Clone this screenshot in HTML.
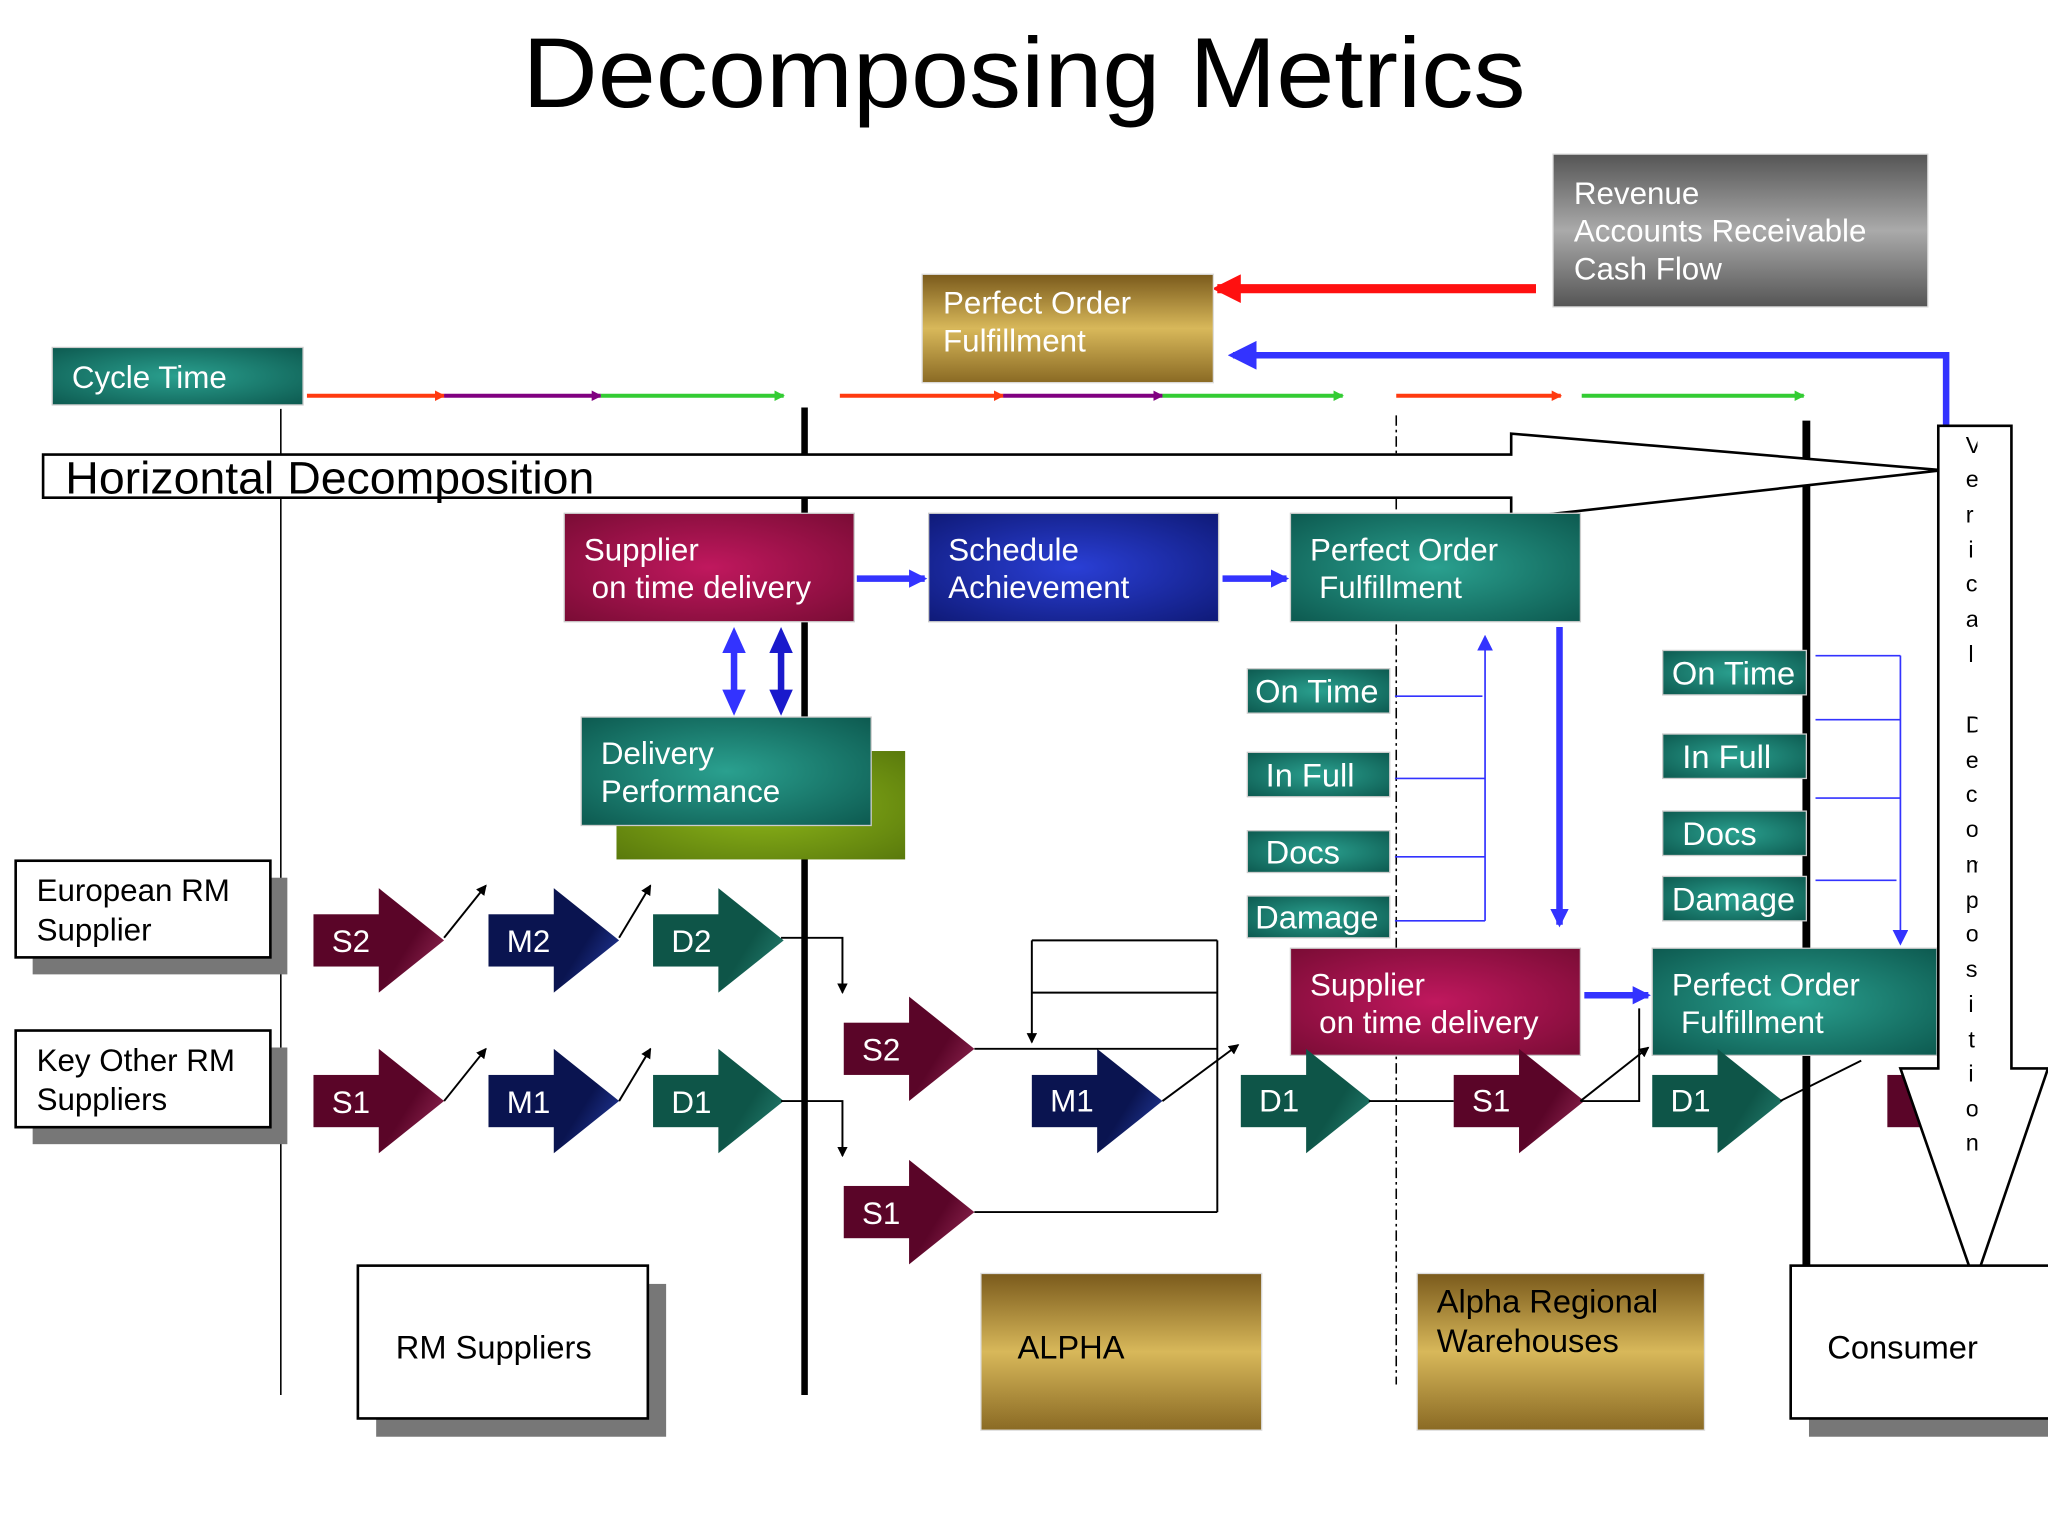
<!DOCTYPE html>
<html><head><meta charset="utf-8"><style>
html,body{margin:0;padding:0;background:#fff;}
svg{display:block;}
text{font-family:"Liberation Sans",sans-serif;}
</style></head><body>
<svg width="2048" height="1536" viewBox="0 0 1568 1176" xmlns="http://www.w3.org/2000/svg">
<defs>
<radialGradient id="gTeal" cx="50%" cy="50%" r="70%"><stop offset="0" stop-color="#2aa08f"/><stop offset="1" stop-color="#0d5a50"/></radialGradient>
<radialGradient id="gMag" cx="50%" cy="50%" r="70%"><stop offset="0" stop-color="#c0185e"/><stop offset="1" stop-color="#7a0c35"/></radialGradient>
<radialGradient id="gBlue" cx="50%" cy="50%" r="70%"><stop offset="0" stop-color="#2a3fd6"/><stop offset="1" stop-color="#0f1a78"/></radialGradient>
<radialGradient id="gOlive" cx="50%" cy="50%" r="70%"><stop offset="0" stop-color="#8fb81a"/><stop offset="1" stop-color="#5a7a0c"/></radialGradient>
<linearGradient id="gGold" x1="0" y1="0" x2="0" y2="1"><stop offset="0" stop-color="#7a5a1c"/><stop offset="0.5" stop-color="#d8b85a"/><stop offset="1" stop-color="#8a6a24"/></linearGradient>
<linearGradient id="gGray" x1="0" y1="0" x2="0" y2="1"><stop offset="0" stop-color="#555"/><stop offset="0.5" stop-color="#aaa"/><stop offset="1" stop-color="#555"/></linearGradient>
<linearGradient id="tS" x1="0" y1="0" x2="1" y2="1"><stop offset="0.5" stop-color="#5a0528"/><stop offset="1" stop-color="#a0305e"/></linearGradient>
<linearGradient id="tM" x1="0" y1="0" x2="1" y2="1"><stop offset="0.5" stop-color="#0a1450"/><stop offset="1" stop-color="#2a44b0"/></linearGradient>
<linearGradient id="tD" x1="0" y1="0" x2="1" y2="1"><stop offset="0.5" stop-color="#0e5548"/><stop offset="1" stop-color="#2a8a7a"/></linearGradient>
<g id="chS"><rect x="0" y="-20" width="52" height="40" fill="#5a0528"/><polygon points="50,-40 100,0 50,40" fill="url(#tS)"/></g>
<g id="chM"><rect x="0" y="-20" width="52" height="40" fill="#0a1450"/><polygon points="50,-40 100,0 50,40" fill="url(#tM)"/></g>
<g id="chD"><rect x="0" y="-20" width="52" height="40" fill="#0e5548"/><polygon points="50,-40 100,0 50,40" fill="url(#tD)"/></g>
<marker id="ak" markerWidth="8" markerHeight="8" refX="7" refY="4" orient="auto" markerUnits="userSpaceOnUse"><path d="M0,0 L8,4 L0,8z" fill="#000"/></marker>
<marker id="ab" markerWidth="14" markerHeight="14" refX="12" refY="7" orient="auto" markerUnits="userSpaceOnUse"><path d="M0,0 L14,7 L0,14z" fill="#3333ff"/></marker>
<marker id="abs" markerWidth="12" markerHeight="12" refX="10" refY="6" orient="auto" markerUnits="userSpaceOnUse"><path d="M0,0 L12,6 L0,12z" fill="#3333ff"/></marker>
<marker id="abb" markerWidth="22" markerHeight="22" refX="18" refY="11" orient="auto" markerUnits="userSpaceOnUse"><path d="M0,0 L22,11 L0,22z" fill="#3333ff"/></marker>
<marker id="ar" markerWidth="22" markerHeight="22" refX="18" refY="11" orient="auto" markerUnits="userSpaceOnUse"><path d="M0,0 L22,11 L0,22z" fill="#ff1010"/></marker>
<marker id="cr" markerWidth="8" markerHeight="8" refX="7" refY="4" orient="auto" markerUnits="userSpaceOnUse"><path d="M0,0 L8,4 L0,8z" fill="#ff3a10"/></marker>
<marker id="cp" markerWidth="8" markerHeight="8" refX="7" refY="4" orient="auto" markerUnits="userSpaceOnUse"><path d="M0,0 L8,4 L0,8z" fill="#800080"/></marker>
<marker id="cg" markerWidth="8" markerHeight="8" refX="7" refY="4" orient="auto" markerUnits="userSpaceOnUse"><path d="M0,0 L8,4 L0,8z" fill="#33cc33"/></marker>
<clipPath id="vclip"><rect x="1490" y="330" width="24" height="560"/></clipPath>
</defs>

<text x="400" y="82" font-size="76" textLength="768" lengthAdjust="spacingAndGlyphs" fill="#000">Decomposing Metrics</text>

<rect x="1189" y="118" width="287" height="117" fill="url(#gGray)" stroke="#ddd"/>
<g fill="#fff" font-size="24"><text x="1205" y="156">Revenue</text><text x="1205" y="185">Accounts Receivable</text><text x="1205" y="214">Cash Flow</text></g>
<line x1="1176" y1="221" x2="932" y2="221" stroke="#ff1010" stroke-width="7" marker-end="url(#ar)"/>
<polyline points="1490,325 1490,272 944,272" fill="none" stroke="#3333ff" stroke-width="5" marker-end="url(#abb)"/>

<rect x="706" y="210" width="223" height="83" fill="url(#gGold)" stroke="#ddd"/>
<g fill="#fff" font-size="24"><text x="722" y="240">Perfect Order</text><text x="722" y="269">Fulfillment</text></g>

<rect x="40" y="266" width="192" height="44" fill="url(#gTeal)" stroke="#ccc"/>
<text x="55" y="297" fill="#fff" font-size="24">Cycle Time</text>

<g stroke-width="3">
<line x1="235" y1="303" x2="340" y2="303" stroke="#ff3a10" marker-end="url(#cr)"/>
<line x1="340" y1="303" x2="460" y2="303" stroke="#800080" marker-end="url(#cp)"/>
<line x1="460" y1="303" x2="600" y2="303" stroke="#33cc33" marker-end="url(#cg)"/>
<line x1="643" y1="303" x2="768" y2="303" stroke="#ff3a10" marker-end="url(#cr)"/>
<line x1="768" y1="303" x2="890" y2="303" stroke="#800080" marker-end="url(#cp)"/>
<line x1="890" y1="303" x2="1028" y2="303" stroke="#33cc33" marker-end="url(#cg)"/>
<line x1="1069" y1="303" x2="1195" y2="303" stroke="#ff3a10" marker-end="url(#cr)"/>
<line x1="1211" y1="303" x2="1381" y2="303" stroke="#33cc33" marker-end="url(#cg)"/>
</g>

<line x1="215" y1="313" x2="215" y2="1068" stroke="#000" stroke-width="1.2"/>
<line x1="616" y1="312" x2="616" y2="1068" stroke="#000" stroke-width="5"/>
<line x1="1069" y1="318" x2="1069" y2="1060" stroke="#000" stroke-width="1.2" stroke-dasharray="8,3,2,3"/>
<line x1="1383" y1="322" x2="1383" y2="1000" stroke="#000" stroke-width="6"/>

<polygon points="33,348 1157,348 1157,332 1487,360 1157,397 1157,381 33,381" fill="#fff" stroke="#000" stroke-width="2"/>
<text x="50" y="378" font-size="35" fill="#000" textLength="405" lengthAdjust="spacingAndGlyphs">Horizontal Decomposition</text>

<rect x="432" y="393" width="222" height="83" fill="url(#gMag)" stroke="#ccc"/>
<g fill="#fff" font-size="24"><text x="447" y="429">Supplier</text><text x="453" y="458">on time delivery</text></g>
<rect x="711" y="393" width="222" height="83" fill="url(#gBlue)" stroke="#ccc"/>
<g fill="#fff" font-size="24"><text x="726" y="429">Schedule</text><text x="726" y="458">Achievement</text></g>
<rect x="988" y="393" width="222" height="83" fill="url(#gTeal)" stroke="#ccc"/>
<g fill="#fff" font-size="24"><text x="1003" y="429">Perfect Order</text><text x="1010" y="458">Fulfillment</text></g>
<line x1="656" y1="443" x2="708" y2="443" stroke="#3333ff" stroke-width="5" marker-end="url(#ab)"/>
<line x1="936" y1="443" x2="985" y2="443" stroke="#3333ff" stroke-width="5" marker-end="url(#ab)"/>

<g stroke-width="5">
<line x1="562" y1="500" x2="562" y2="530" stroke="#3333ff"/>
<polygon points="562,480 553,500 571,500" fill="#3333ff"/><polygon points="562,548 553,528 571,528" fill="#3333ff"/>
<line x1="598" y1="500" x2="598" y2="530" stroke="#1a1acc"/>
<polygon points="598,480 589,500 607,500" fill="#1a1acc"/><polygon points="598,548 589,528 607,528" fill="#1a1acc"/>
</g>

<rect x="472" y="575" width="221" height="83" fill="url(#gOlive)"/>
<rect x="445" y="549" width="222" height="83" fill="url(#gTeal)" stroke="#ccc"/>
<g fill="#fff" font-size="24"><text x="460" y="585">Delivery</text><text x="460" y="614">Performance</text></g>

<g fill="url(#gTeal)" stroke="#ccc">
<rect x="955" y="512" width="109" height="34"/><rect x="955" y="576" width="109" height="34"/>
<rect x="955" y="636" width="109" height="32"/><rect x="955" y="686" width="109" height="32"/>
<rect x="1273" y="498" width="110" height="34"/><rect x="1273" y="562" width="110" height="34"/>
<rect x="1273" y="621" width="110" height="34"/><rect x="1273" y="671" width="110" height="34"/>
</g>
<g fill="#fff" font-size="25">
<text x="961" y="538">On Time</text><text x="969" y="602">In Full</text><text x="969" y="661">Docs</text><text x="961" y="711">Damage</text>
<text x="1280" y="524">On Time</text><text x="1288" y="588">In Full</text><text x="1288" y="647">Docs</text><text x="1280" y="697">Damage</text>
</g>

<g stroke="#3333ff" stroke-width="1.3" fill="none">
<line x1="1068" y1="533" x2="1135" y2="533"/><line x1="1068" y1="596" x2="1137" y2="596"/>
<line x1="1068" y1="656" x2="1137" y2="656"/><line x1="1068" y1="705" x2="1137" y2="705"/>
<line x1="1137" y1="705" x2="1137" y2="488" marker-end="url(#abs)"/>
<line x1="1390" y1="502" x2="1455" y2="502"/><line x1="1390" y1="551" x2="1455" y2="551"/>
<line x1="1390" y1="611" x2="1455" y2="611"/><line x1="1390" y1="674" x2="1452" y2="674"/>
<line x1="1455" y1="502" x2="1455" y2="722" marker-end="url(#abs)"/>
</g>
<line x1="1194" y1="480" x2="1194" y2="708" stroke="#3333ff" stroke-width="5" marker-end="url(#ab)"/>

<rect x="988" y="726" width="222" height="82" fill="url(#gMag)" stroke="#ccc"/>
<g fill="#fff" font-size="24"><text x="1003" y="762">Supplier</text><text x="1010" y="791">on time delivery</text></g>
<line x1="1213" y1="762" x2="1262" y2="762" stroke="#3333ff" stroke-width="5" marker-end="url(#ab)"/>
<rect x="1265" y="726" width="218" height="82" fill="url(#gTeal)" stroke="#ccc"/>
<g fill="#fff" font-size="24"><text x="1280" y="762">Perfect Order</text><text x="1287" y="791">Fulfillment</text></g>

<rect x="25" y="672" width="195" height="74" fill="#777"/>
<rect x="12" y="659" width="195" height="74" fill="#fff" stroke="#000" stroke-width="2"/>
<g font-size="24" fill="#000"><text x="28" y="690">European RM</text><text x="28" y="720">Supplier</text></g>
<rect x="25" y="802" width="195" height="74" fill="#777"/>
<rect x="12" y="789" width="195" height="74" fill="#fff" stroke="#000" stroke-width="2"/>
<g font-size="24" fill="#000"><text x="28" y="820">Key Other RM</text><text x="28" y="850">Suppliers</text></g>

<use href="#chS" x="240" y="720"/><use href="#chM" x="374" y="720"/><use href="#chD" x="500" y="720"/>
<use href="#chS" x="240" y="843"/><use href="#chM" x="374" y="843"/><use href="#chD" x="500" y="843"/>
<use href="#chS" x="646" y="803"/><use href="#chS" x="646" y="928"/>
<use href="#chM" x="790" y="843"/><use href="#chD" x="950" y="843"/>
<use href="#chS" x="1113" y="843"/><use href="#chD" x="1265" y="843"/>
<rect x="1445" y="823" width="30" height="40" fill="#5a0528"/>
<g fill="#fff" font-size="24">
<text x="254" y="729">S2</text><text x="388" y="729">M2</text><text x="514" y="729">D2</text>
<text x="254" y="852">S1</text><text x="388" y="852">M1</text><text x="514" y="852">D1</text>
<text x="660" y="812">S2</text><text x="660" y="937">S1</text><text x="804" y="851">M1</text>
<text x="964" y="851">D1</text><text x="1127" y="851">S1</text><text x="1279" y="851">D1</text>
</g>

<g stroke="#000" stroke-width="1.5" fill="none">
<line x1="340" y1="718" x2="372" y2="678" marker-end="url(#ak)"/>
<line x1="474" y1="718" x2="498" y2="678" marker-end="url(#ak)"/>
<line x1="340" y1="843" x2="372" y2="803" marker-end="url(#ak)"/>
<line x1="474" y1="843" x2="498" y2="803" marker-end="url(#ak)"/>
<polyline points="598,718 645,718 645,760" marker-end="url(#ak)"/>
<polyline points="598,843 645,843 645,885" marker-end="url(#ak)"/>
<line x1="746" y1="803" x2="932" y2="803"/>
<line x1="746" y1="928" x2="932" y2="928"/>
<line x1="932" y1="720" x2="932" y2="928"/>
<line x1="790" y1="720" x2="932" y2="720"/>
<line x1="790" y1="760" x2="932" y2="760"/>
<line x1="790" y1="720" x2="790" y2="798" marker-end="url(#ak)"/>
<line x1="890" y1="843" x2="948" y2="800" marker-end="url(#ak)"/>
<line x1="1048" y1="843" x2="1113" y2="843"/>
<polyline points="1210,843 1255,843 1255,772"/>
<line x1="1210" y1="843" x2="1262" y2="802" marker-end="url(#ak)"/>
<line x1="1363" y1="843" x2="1425" y2="812"/>
</g>

<polygon points="1484,326 1540,326 1540,818 1568,818 1512,982 1455,818 1484,818" fill="#fff" stroke="#000" stroke-width="2"/>
<g font-size="18" fill="#000" clip-path="url(#vclip)">
<text x="1505" y="347">V</text><text x="1505" y="373">e</text><text x="1505" y="400">r</text><text x="1507" y="427">i</text>
<text x="1505" y="453">c</text><text x="1505" y="480">a</text><text x="1507" y="507">l</text>
<text x="1505" y="561">D</text><text x="1505" y="588">e</text><text x="1505" y="614">c</text><text x="1505" y="641">o</text>
<text x="1505" y="668">m</text><text x="1505" y="695">p</text><text x="1505" y="721">o</text><text x="1505" y="748">s</text>
<text x="1507" y="775">i</text><text x="1507" y="802">t</text><text x="1507" y="828">i</text><text x="1505" y="855">o</text><text x="1505" y="881">n</text>
</g>

<rect x="288" y="983" width="222" height="117" fill="#777"/>
<rect x="274" y="969" width="222" height="117" fill="#fff" stroke="#000" stroke-width="2"/>
<text x="303" y="1040" font-size="25" fill="#000">RM Suppliers</text>
<rect x="751" y="975" width="215" height="120" fill="url(#gGold)" stroke="#ddd"/>
<text x="779" y="1040" font-size="25" fill="#000">ALPHA</text>
<rect x="1085" y="975" width="220" height="120" fill="url(#gGold)" stroke="#ddd"/>
<g font-size="25" fill="#000"><text x="1100" y="1005">Alpha Regional</text><text x="1100" y="1035">Warehouses</text></g>
<rect x="1385" y="983" width="190" height="117" fill="#777"/>
<rect x="1371" y="969" width="200" height="117" fill="#fff" stroke="#000" stroke-width="2"/>
<text x="1399" y="1040" font-size="25" fill="#000">Consumer</text>
</svg>
</body></html>
